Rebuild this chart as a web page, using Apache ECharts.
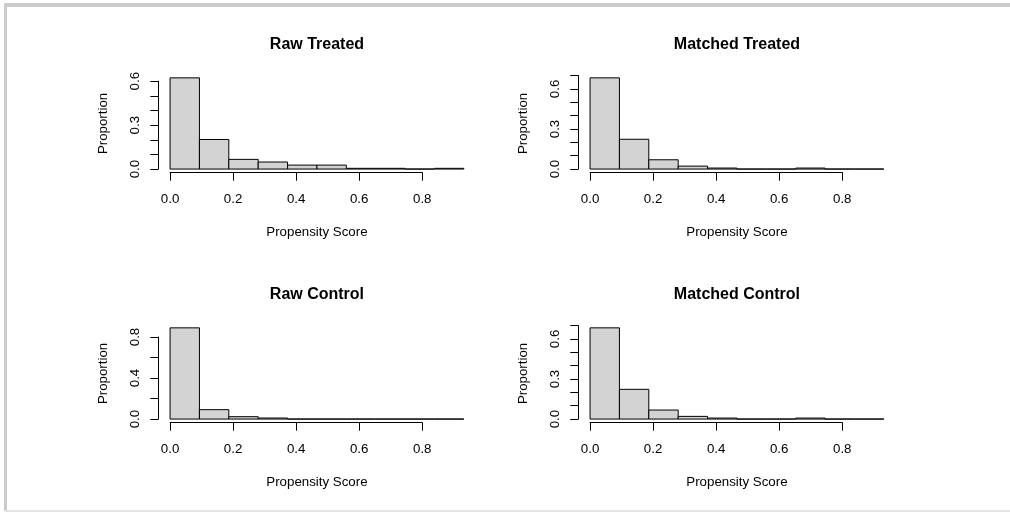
<!DOCTYPE html>
<html><head><meta charset="utf-8">
<script src="https://cdn.jsdelivr.net/npm/echarts@6/dist/echarts.min.js"></script>
<style>html,body{margin:0;padding:0;background:#fff}#c{width:1010px;height:512px}</style>
</head><body><div id="c"></div>
<script>
// ---- data ----
const breaks = [0, 0.0932, 0.1864, 0.2796, 0.3728, 0.466, 0.5592, 0.6524, 0.7456, 0.8388, 0.932];
const titles = ['Raw Treated', 'Matched Treated', 'Raw Control', 'Matched Control'];
const rawTreated     = [0.623, 0.202, 0.066, 0.048, 0.027, 0.027, 0.005, 0.005, 0, 0.005];
const matchedTreated = [0.683, 0.223, 0.0695, 0.022, 0.0075, 0, 0, 0.0075, 0, 0];
const rawControl     = [0.889, 0.0915, 0.023, 0.01, 0, 0, 0, 0, 0, 0];
const matchedControl = [0.683, 0.2225, 0.0675, 0.02, 0.0075, 0, 0, 0.0075, 0, 0];
const xTicks = [0, 0.2, 0.4, 0.6, 0.8];
const yTickMax = [0.6, 0.7, 0.8, 0.7];
const yTickStep = [0.1, 0.1, 0.2, 0.1];
const yLabelStep = [0.3, 0.3, 0.4, 0.3];
const xTitle = 'Propensity Score';
const yTitle = 'Proportion';

// ---- layout ----
const FONT = '"Liberation Sans", Arial, sans-serif';
const FS = 13.3;
const W = 317.3, H = 98.5;
const colLeft = [158.3, 578.3], rowBottom = [172.7, 422.7];
const panels = [
  {t: titles[0], v: rawTreated, c: 0, r: 0},
  {t: titles[1], v: matchedTreated, c: 1, r: 0},
  {t: titles[2], v: rawControl, c: 0, r: 1},
  {t: titles[3], v: matchedControl, c: 1, r: 1}
];

const grid = [], xAxis = [], yAxis = [], series = [];
const graphic = [
  {type: 'rect', shape: {x: 4, y: 3, width: 1006, height: 4}, style: {fill: '#cbcbcb'}, silent: true},
  {type: 'rect', shape: {x: 4, y: 3, width: 3, height: 509}, style: {fill: '#cbcbcb'}, silent: true},
  {type: 'rect', shape: {x: 4, y: 510, width: 1006, height: 2}, style: {fill: '#e3e3e3'}, silent: true}
];
const txt = {fontFamily: FONT, fontSize: FS, color: '#000'};

panels.forEach((p, i) => {
  const L = colLeft[p.c], B = rowBottom[p.r], T = B - H;
  const b0 = breaks[0], b1 = breaks[breaks.length - 1];
  const xlo = b0 - 0.04 * (b1 - b0), xhi = b1 + 0.04 * (b1 - b0);
  const ymax = Math.max(...p.v);
  const ylo = -0.04 * ymax, yhi = 1.04 * ymax;
  const px = x => L + (x - xlo) / (xhi - xlo) * W;
  const py = y => B - (y - ylo) / (yhi - ylo) * H;
  const g = grid.length;
  // main plotting grid
  grid.push({left: L, top: T, width: W, height: H});
  xAxis.push({gridIndex: g, type: 'value', min: xlo, max: xhi,
    axisLine: {show: false}, axisTick: {show: false}, axisLabel: {show: false}, splitLine: {show: false},
    name: xTitle, nameLocation: 'middle', nameGap: 53.5, nameTextStyle: txt});
  yAxis.push({gridIndex: g, type: 'value', min: ylo, max: yhi,
    axisLine: {show: false}, axisTick: {show: false}, axisLabel: {show: false}, splitLine: {show: false},
    name: yTitle, nameLocation: 'middle', nameGap: 48.5, nameRotate: 90, nameTextStyle: txt});
  series.push({
    type: 'custom', xAxisIndex: g, yAxisIndex: g, silent: true, animation: false, clip: false,
    data: p.v.map((v, k) => [breaks[k], breaks[k + 1], v]),
    renderItem: (params, api) => {
      const a = api.coord([api.value(0), api.value(2)]);
      const b = api.coord([api.value(1), 0]);
      return {type: 'rect', shape: {x: a[0], y: a[1], width: b[0] - a[0], height: b[1] - a[1]},
        style: {fill: '#d3d3d3', stroke: '#000', lineWidth: 1}};
    }
  });
  // x axis grid (axis spans first to last tick, R style)
  const xt0 = xTicks[0], xt1 = xTicks[xTicks.length - 1];
  grid.push({left: px(xt0), top: T, width: px(xt1) - px(xt0), height: H});
  xAxis.push({gridIndex: g + 1, type: 'value', min: xt0, max: xt1, interval: 0.2, position: 'bottom',
    axisLine: {show: true, lineStyle: {color: '#000', width: 1}},
    axisTick: {show: true, length: 8, lineStyle: {color: '#000', width: 1}},
    axisLabel: Object.assign({margin: 20, formatter: v => v.toFixed(1)}, txt),
    splitLine: {show: false}});
  yAxis.push({gridIndex: g + 1, type: 'value', show: false});
  // y axis grid
  grid.push({left: L, top: py(yTickMax[i]), width: W, height: py(0) - py(yTickMax[i])});
  xAxis.push({gridIndex: g + 2, type: 'value', show: false});
  const ls = yLabelStep[i];
  yAxis.push({gridIndex: g + 2, type: 'value', min: 0, max: yTickMax[i], interval: yTickStep[i], position: 'left',
    axisLine: {show: true, lineStyle: {color: '#000', width: 1}},
    axisTick: {show: true, length: 8, lineStyle: {color: '#000', width: 1}},
    axisLabel: Object.assign({margin: 16, rotate: 90,
      formatter: v => (Math.abs(v / ls - Math.round(v / ls)) < 1e-6 ? v.toFixed(1) : '')}, txt),
    splitLine: {show: false}});
  // panel title
  graphic.push({type: 'text', x: L + W / 2, y: B - 128.6, silent: true,
    style: {text: p.t, font: 'bold 16px ' + FONT, fill: '#000', align: 'center', verticalAlign: 'middle',
      textAlign: 'center', textVerticalAlign: 'middle'}});
});

const chart = echarts.init(document.getElementById('c'), null, {renderer: 'canvas'});
chart.setOption({animation: false, backgroundColor: '#fff', grid, xAxis, yAxis, series, graphic});
</script></body></html>
